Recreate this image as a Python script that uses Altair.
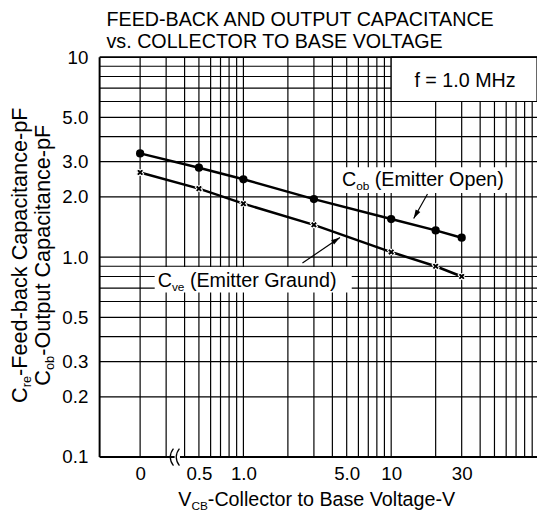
import altair as alt
import pandas as pd

# ---------------- data ----------------
vcb = [0, 0.5, 1.0, 3.0, 10, 20, 30]
cob = [3.3, 2.8, 2.45, 1.95, 1.55, 1.36, 1.25]
cve = [2.65, 2.2, 1.85, 1.45, 1.06, 0.90, 0.80]

BREAK_POS = 0.2  # position of "0" on the broken log axis
x_tick_vals = [0.2, 0.5, 1, 5, 10, 30]
x_tick_text = ["0", "0.5", "1.0", "5.0", "10", "30"]
y_tick_vals = [10, 5, 3, 2, 1, 0.5, 0.3, 0.2, 0.1]
y_tick_text = ["10", "5.0", "3.0", "2.0", "1.0", "0.5", "0.3", "0.2", "0.1"]
x_grid = [0.2, 0.3, 0.4, 0.5, 0.6, 0.7, 0.8, 0.9,
          1, 2, 3, 4, 5, 6, 7, 8, 9,
          10, 20, 30, 40, 50, 60, 70, 80, 90]
y_grid = [0.2, 0.3, 0.4, 0.5, 0.6, 0.7, 0.8, 0.9,
          1, 2, 3, 4, 5, 6, 7, 8, 9]

X_DOMAIN = [0.1064, 97]
Y_DOMAIN = [0.1, 10]
W, H = 444, 406
FONT = "Liberation Sans"
FS, SUB = 20, 12

# Arial / Liberation Sans advance widths (per 1000 em)
AW = {' ': 278, '-': 333, '.': 278, '(': 333, ')': 333, '=': 584,
      'A': 667, 'B': 667, 'C': 722, 'D': 722, 'E': 667, 'F': 611, 'G': 778,
      'H': 722, 'I': 278, 'K': 667, 'L': 556, 'M': 833, 'N': 722, 'O': 778,
      'P': 667, 'R': 722, 'S': 667, 'T': 611, 'U': 722, 'V': 667,
      'a': 556, 'b': 556, 'c': 500, 'd': 556, 'e': 556, 'f': 278, 'g': 556,
      'i': 222, 'k': 500, 'l': 222, 'm': 833, 'n': 556, 'o': 556, 'p': 556,
      'r': 333, 's': 500, 't': 278, 'u': 556, 'v': 500, 'z': 500}


def tw(s, size):
    return sum(AW.get(ch, 556) for ch in s) * size / 1000.0


def pieces(parts, fs=FS, sub=SUB, subdy=4):
    """parts: list of (text, is_sub) -> list of (text, size, dx, dy), total width"""
    out, cur = [], 0.0
    for t, is_sub in parts:
        size = sub if is_sub else fs
        lead = len(t) - len(t.lstrip(" "))
        cur += tw(" " * lead, size)
        t = t.lstrip(" ")
        out.append((t, size, cur, subdy if is_sub else 0))
        cur += tw(t, size)
    return out, cur


xs = alt.Scale(type="log", domain=X_DOMAIN, nice=False)
ys = alt.Scale(type="log", domain=Y_DOMAIN, nice=False)


def expr(vals, texts):
    return " : ".join(f"datum.value == {v} ? '{t}'" for v, t in zip(vals, texts)) + " : ''"


ax_x = alt.Axis(values=x_tick_vals, labelExpr=expr(x_tick_vals, x_tick_text), grid=False,
                ticks=False, domain=False, labelFontSize=19, labelFont=FONT,
                labelColor="black", labelPadding=8, title=None, labelFlush=False,
                labelOverlap=False)
ax_y = alt.Axis(values=y_tick_vals, labelExpr=expr(y_tick_vals, y_tick_text), grid=False,
                ticks=False, domain=False, labelFontSize=19, labelFont=FONT,
                labelColor="black", labelPadding=12, title=None, labelOverlap=False)


def X(f):
    return alt.X(f, type="quantitative", scale=xs, axis=ax_x)


def Y(f):
    return alt.Y(f, type="quantitative", scale=ys, axis=ax_y)


one = pd.DataFrame({"a": [0]})
layers = []

# grid
layers.append(alt.Chart(pd.DataFrame({"g": x_grid})).mark_rule(color="black", strokeWidth=1.2)
              .encode(x=X("g")))
layers.append(alt.Chart(pd.DataFrame({"g": y_grid})).mark_rule(color="black", strokeWidth=1.2)
              .encode(y=Y("g")))

# white boxes behind annotations
fbox = pd.DataFrame({"x1": [10], "x2": [X_DOMAIN[1]], "y1": [6], "y2": [10]})
layers.append(alt.Chart(fbox).mark_rect(fill="white", stroke="black", strokeWidth=1.2)
              .encode(x=X("x1"), x2="x2", y=Y("y1"), y2="y2"))
boxes = pd.DataFrame({"x1": [4.37, 0.251], "x2": [66, 5.41],
                      "y1": [2.09, 0.665], "y2": [2.81, 0.893]})
layers.append(alt.Chart(boxes).mark_rect(fill="white")
              .encode(x=X("x1"), x2="x2", y=Y("y1"), y2="y2"))

# frame
layers.append(alt.Chart(one).mark_rule(color="black", strokeWidth=2)
              .encode(x=alt.value(0), x2=alt.value(W), y=alt.value(0)))
layers.append(alt.Chart(one).mark_rule(color="black", strokeWidth=2)
              .encode(x=alt.value(0), x2=alt.value(W), y=alt.value(H)))
layers.append(alt.Chart(one).mark_rule(color="black", strokeWidth=2)
              .encode(x=alt.value(0), y=alt.value(0), y2=alt.value(H)))

# axis break symbol
brk = pd.DataFrame({"x": [0.357], "y": [0.1]})
layers.append(alt.Chart(brk).mark_point(shape="square", filled=True, fill="white",
                                        strokeWidth=0, size=30, opacity=1)
              .encode(x=X("x"), y=Y("y")))
layers.append(alt.Chart(brk).mark_point(
    shape="M-0.45,-1C-0.95,-0.4 -0.95,0.4 -0.45,1M0.25,-1C-0.25,-0.4 -0.25,0.4 0.25,1",
    filled=False, stroke="black", strokeWidth=1.3, size=300, opacity=1)
    .encode(x=X("x"), y=Y("y")))

# data
rows = []
for v, c, e in zip(vcb, cob, cve):
    xp = BREAK_POS if v == 0 else v
    rows.append({"series": "Cob", "xp": xp, "val": c})
    rows.append({"series": "Cve", "xp": xp, "val": e})
df = pd.DataFrame(rows)
layers.append(alt.Chart(df).mark_line(color="black", strokeWidth=2.5)
              .encode(x=X("xp"), y=Y("val"), detail="series:N"))
layers.append(alt.Chart(df[df.series == "Cob"]).mark_point(shape="circle", filled=True,
                                                           color="black", size=70, opacity=1)
              .encode(x=X("xp"), y=Y("val")))
layers.append(alt.Chart(df[df.series == "Cve"]).mark_point(shape="cross", angle=45, filled=True,
                                                           fill="black", stroke="white",
                                                           strokeWidth=1, size=55, opacity=1)
              .encode(x=X("xp"), y=Y("val")))

# arrows
arrows = pd.DataFrame({"x1": [17.6, 2.51], "y1": [2.07, 0.934],
                       "x2": [14.2, 4.5], "y2": [1.56, 1.254], "ang": [209, 56]})
layers.append(alt.Chart(arrows).mark_rule(color="black", strokeWidth=1.2)
              .encode(x=X("x1"), y=Y("y1"), x2="x2", y2="y2"))
layers.append(alt.Chart(arrows).mark_point(shape="M0,0L0.9,3L-0.9,3Z", filled=True,
                                           color="black", size=36, opacity=1)
              .encode(x=X("x2"), y=Y("y2"), angle=alt.Angle("ang:Q", scale=None)))


def data_text(parts, x, y):
    ps, _ = pieces(parts)
    d = pd.DataFrame({"x": [x], "y": [y]})
    for t, size, dx, dy in ps:
        layers.append(alt.Chart(d).mark_text(text=t, font=FONT, fontSize=size, color="black",
                                             align="left", baseline="alphabetic", dx=dx, dy=dy)
                      .encode(x=X("x"), y=Y("y")))


data_text([("C", False), ("ob", True), (" (Emitter Open)", False)], 4.64, 2.26)
data_text([("C", False), ("ve", True), (" (Emitter Graund)", False)], 0.263, 0.711)
layers.append(alt.Chart(pd.DataFrame({"x": [31.6], "y": [7.62]}))
              .mark_text(text="f = 1.0 MHz", font=FONT, fontSize=FS, color="black",
                         align="center", baseline="middle")
              .encode(x=X("x"), y=Y("y")))


def pix_text(parts, cx, y, angle=0, fs=FS, sub=SUB, subdy=4):
    ps, total = pieces(parts, fs, sub, subdy)
    for t, size, dx, dy in ps:
        if angle == 0:
            xv, yv = cx - total / 2, y
        else:
            xv, yv = y, cx + total / 2
        layers.append(alt.Chart(one).mark_text(text=t, font=FONT, fontSize=size, color="black",
                                               align="left", baseline="alphabetic",
                                               dx=dx, dy=dy, angle=angle)
                      .encode(x=alt.value(xv), y=alt.value(yv)))


# x-axis title
pix_text([("V", False), ("CB", True), ("-Collector to Base Voltage-V", False)], 221, 456)
# y-axis title (two rotated lines)
pix_text([("C", False), ("re", True), ("-Feed-back Capacitance-pF", False)], 201, -74,
         angle=270, fs=22, sub=13, subdy=4)
pix_text([("C", False), ("ob", True), ("-Output Capacitance-pF", False)], 201, -50,
         angle=270, fs=22, sub=13, subdy=4)

# chart title
for txt, yy in [("FEED-BACK AND OUTPUT CAPACITANCE", -32), ("vs. COLLECTOR TO BASE VOLTAGE", -9)]:
    layers.append(alt.Chart(one).mark_text(text=txt, font=FONT, fontSize=FS, color="black",
                                           align="left", baseline="alphabetic")
                  .encode(x=alt.value(7), y=alt.value(yy)))

chart = (alt.layer(*layers)
         .properties(width=W, height=H, background="white",
                     padding={"left": 93, "top": 46, "right": 0, "bottom": 60},
                     autosize=alt.AutoSizeParams(type="none"))
         .configure_view(stroke=None))

chart.save("out.html", embed_options={"renderer": "svg", "actions": False})
